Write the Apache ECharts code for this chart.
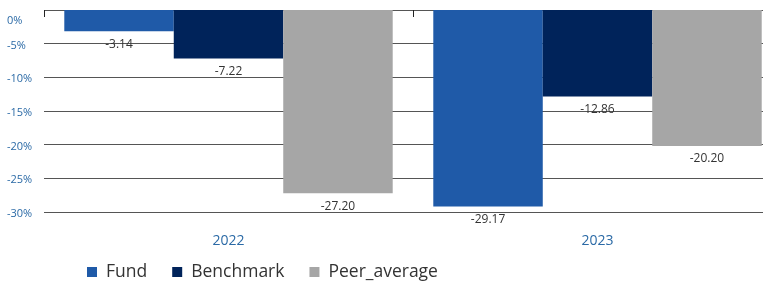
<!DOCTYPE html>
<html>
<head>
    <meta charset="utf-8"/>
    <title>Fund vs Benchmark</title>
    <script src="https://cdn.jsdelivr.net/npm/echarts@6/dist/echarts.min.js"></script>
    <style>
        html, body { margin: 0; padding: 0; background: #fff; overflow: hidden; }
        #chart { width: 763px; height: 282px; }
    </style>
</head>
<body>
<div id="chart"></div>
<script>
    var years = ['2022', '2023'];
    var fund = [-3.14, -29.17];
    var benchmark = [-7.22, -12.86];
    var peerAverage = [-27.20, -20.20];
    var yTicks = [0, -5, -10, -15, -20, -25, -30];

    var font = '"Open Sans", "Noto Sans", sans-serif';
    var blueText = '#2b6aa6';

    function barSeries(name, data, color) {
        return {
            name: name,
            type: 'bar',
            data: data,
            barGap: 0,
            barCategoryGap: '11%',
            itemStyle: { color: color },
            label: {
                show: true,
                position: 'bottom',
                distance: 7,
                color: '#333',
                fontSize: 12,
                fontFamily: font,
                formatter: function (p) { return p.value.toFixed(2); }
            }
        };
    }

    var myChart = echarts.init(document.getElementById('chart'));
    var option = {
        animation: false,
        // plot runs past the right edge of the picture, like the original
        grid: { left: 44, width: 738, top: 10, height: 202, outerBoundsMode: 'none' },
        legend: {
            left: 82,
            top: 258,
            icon: 'rect',
            itemWidth: 10,
            itemHeight: 10,
            itemGap: 25,
            textStyle: { fontSize: 17.5, color: '#333', fontFamily: font, padding: [0, 0, 0, 4] },
            data: ['Fund', 'Benchmark', 'Peer_average']
        },
        xAxis: [{
            type: 'category',
            data: years,
            position: 'bottom',
            axisLine: { show: false },
            axisTick: { show: false },
            axisLabel: { color: blueText, fontSize: 14, margin: 22, fontFamily: font }
        }, {
            type: 'category',
            data: years,
            position: 'top',
            axisLine: { show: false },
            axisTick: { show: true, inside: true, length: 7, lineStyle: { color: '#222' } },
            axisLabel: { show: false }
        }],
        yAxis: {
            type: 'value',
            min: yTicks[yTicks.length - 1],
            max: yTicks[0],
            interval: 5,
            axisLine: { show: false },
            axisTick: { show: false },
            splitLine: { lineStyle: { color: '#555', width: 1 } },
            axisLabel: {
                align: 'left',
                margin: 37,
                color: blueText,
                fontSize: 11,
                fontFamily: font,
                formatter: function (v) {
                    return v === 0 ? '{z|0%}' : '{n|' + v + '%}';
                },
                rich: {
                    z: { color: blueText, fontSize: 11, fontFamily: font, padding: [22, 0, 0, 0] },
                    n: { color: blueText, fontSize: 11, fontFamily: font, padding: [4, 0, 0, 0] }
                }
            }
        },
        series: [
            barSeries('Fund', fund, '#1f5aa8'),
            barSeries('Benchmark', benchmark, '#00235a'),
            barSeries('Peer_average', peerAverage, '#a6a6a6')
        ]
    };
    myChart.setOption(option);
</script>
</body>
</html>
